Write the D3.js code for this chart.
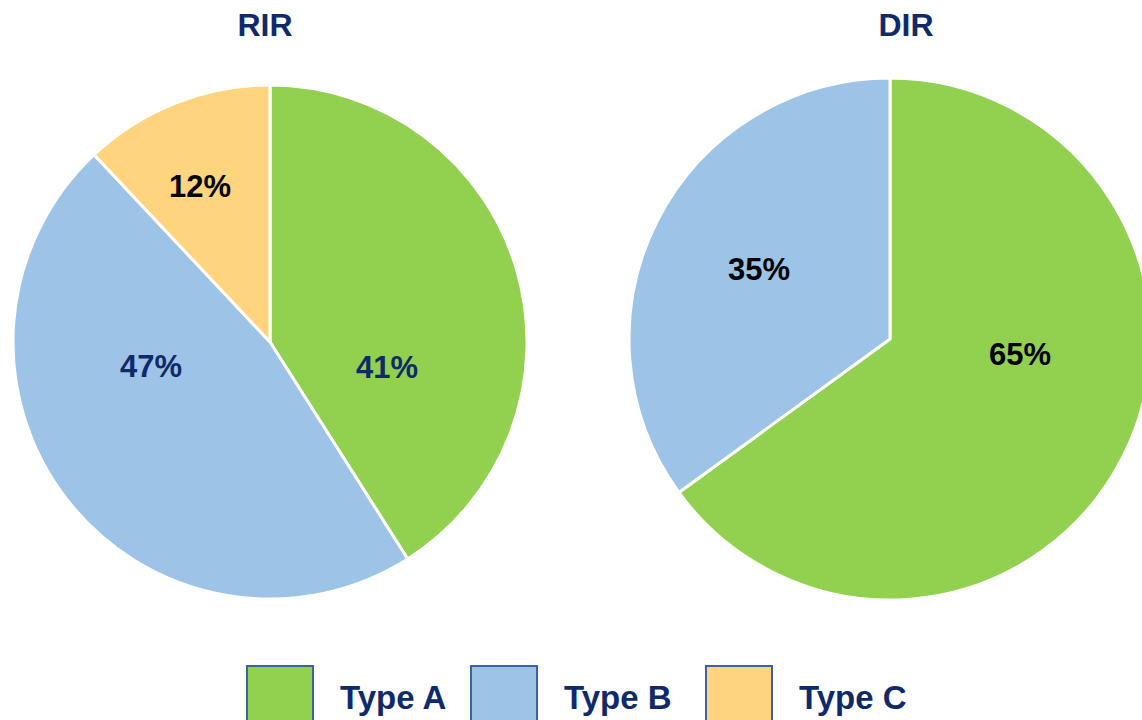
<!DOCTYPE html>
<html><head><meta charset="utf-8">
<script src="https://cdn.jsdelivr.net/npm/d3@7"></script>
<style>body{margin:0;background:#fff}svg{display:block}</style>
</head><body>
<svg id="c" width="1142" height="720"></svg>
<script>
const categories = ["Type A", "Type B", "Type C"];
const chartTitles = ["RIR", "DIR"];
const rirValues = [41, 47, 12];
const dirValues = [65, 35, 0];
const colors = ["#92D050", "#9DC3E6", "#FED47F"];
const navy = "#0F2A6B";

const svg = d3.select("#c");
const font = "'Liberation Sans', Arial, sans-serif";

// layout
const pies = [
  {title: chartTitles[0], values: rirValues, cx: 270, cy: 342, r: 257, titleX: 265,
   labelPos: [[117, 36], [-119, 35], [-70, -145]], labelColor: [navy, navy, "#000"]},
  {title: chartTitles[1], values: dirValues, cx: 890, cy: 339, r: 261, titleX: 906,
   labelPos: [[130, 26], [-131, -59], [0, 0]], labelColor: ["#000", "#000", "#000"]}
];

const pie = d3.pie().sort(null).value(d => d);

pies.forEach(p => {
  const g = svg.append("g").attr("transform", `translate(${p.cx},${p.cy})`);
  const arc = d3.arc().innerRadius(0).outerRadius(p.r);
  const arcs = pie(p.values);
  g.selectAll("path").data(arcs.filter(d => d.data > 0)).join("path")
    .attr("d", arc)
    .attr("fill", d => colors[d.index])
    .attr("stroke", "#fff").attr("stroke-width", 3).attr("stroke-linejoin", "round");
  g.selectAll("text.lbl").data(arcs.filter(d => d.data > 0)).join("text")
    .attr("class", "lbl")
    .attr("x", d => p.labelPos[d.index][0])
    .attr("y", d => p.labelPos[d.index][1])
    .attr("text-anchor", "middle")
    .attr("font-family", font).attr("font-weight", "bold").attr("font-size", 31)
    .attr("fill", d => p.labelColor[d.index])
    .text(d => d.data + "%");
  svg.append("text").attr("x", p.titleX).attr("y", 36)
    .attr("text-anchor", "middle")
    .attr("font-family", font).attr("font-weight", "bold").attr("font-size", 32)
    .attr("fill", navy).text(p.title);
});

// legend
const legX = [247, 471, 706];
const lg = svg.append("g");
categories.forEach((c, i) => {
  lg.append("rect").attr("x", legX[i]).attr("y", 666).attr("width", 66).attr("height", 66)
    .attr("fill", colors[i]).attr("stroke", "#3D62A3").attr("stroke-width", 2);
  lg.append("text").attr("x", legX[i] + 93).attr("y", 709)
    .attr("font-family", font).attr("font-weight", "bold").attr("font-size", 33)
    .attr("fill", navy).text(c);
});
</script>
</body></html>
